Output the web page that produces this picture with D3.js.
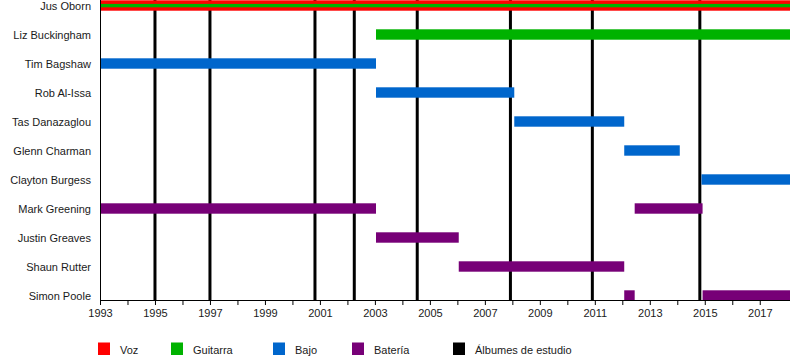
<!DOCTYPE html>
<html><head><meta charset="utf-8">
<script src="https://cdn.jsdelivr.net/npm/d3@7"></script>
<style>body{margin:0;background:#fff}svg{display:block;font-family:"Liberation Sans",Arial,sans-serif}</style>
</head><body><svg id="c" width="800" height="360"></svg>
<script>
const members = ["Jus Oborn","Liz Buckingham","Tim Bagshaw","Rob Al-Issa","Tas Danazaglou","Glenn Charman","Clayton Burgess","Mark Greening","Justin Greaves","Shaun Rutter","Simon Poole"];
const roles = ["Voz","Guitarra","Bajo","Batería"];
const roleColors = ["#ff0000","#00b200","#0066cc","#770077"];
const endYear = 2018.1;
// [member, role, start, end]
const periods = [
  ["Jus Oborn","Voz",1993,endYear],
  ["Jus Oborn","Guitarra",1993,endYear],
  ["Liz Buckingham","Guitarra",2003.04,endYear],
  ["Tim Bagshaw","Bajo",1993,2003.04],
  ["Rob Al-Issa","Bajo",2003.04,2008.07],
  ["Tas Danazaglou","Bajo",2008.07,2012.07],
  ["Glenn Charman","Bajo",2012.07,2014.09],
  ["Clayton Burgess","Bajo",2014.88,endYear],
  ["Mark Greening","Batería",1993,2003.04],
  ["Mark Greening","Batería",2012.45,2014.92],
  ["Justin Greaves","Batería",2003.04,2006.05],
  ["Shaun Rutter","Batería",2006.05,2012.07],
  ["Simon Poole","Batería",2012.07,2012.45],
  ["Simon Poole","Batería",2014.92,endYear]
];
const albums = [1995.0,1997.0,2000.82,2002.25,2004.54,2007.93,2010.91,2014.82];
const tickYears = d3.range(1993,2018);
const labelYears = d3.range(1993,2018,2);
const legendLabels = ["Voz","Guitarra","Bajo","Batería","Álbumes de estudio"];
const legendColors = ["#ff0000","#00b200","#0066cc","#770077","#000000"];

const svg = d3.select("#c");
const x = d3.scaleLinear().domain([1993,endYear]).range([100,790]);
const y = d3.scalePoint().domain(members).range([5.5,295.5]);
const color = d3.scaleOrdinal().domain(roles).range(roleColors);
const axisY = 300;

// album lines
svg.append("g").selectAll("line").data(albums).join("line")
  .attr("x1",d=>x(d)).attr("x2",d=>x(d))
  .attr("y1",0).attr("y2",axisY)
  .attr("stroke","#000").attr("stroke-width",3);

// bars
svg.append("g").selectAll("rect").data(periods).join("rect")
  .attr("x",d=>x(d[2]))
  .attr("width",d=>x(d[3])-x(d[2]))
  .attr("y",d=>{
    const thin = d[0]==="Jus Oborn" && d[1]==="Guitarra";
    return y(d[0]) - (thin?1.6:5.2);
  })
  .attr("height",d=>(d[0]==="Jus Oborn" && d[1]==="Guitarra")?3.4:10.4)
  .attr("fill",d=>color(d[1]));

// member labels
svg.append("g").selectAll("text").data(members).join("text")
  .attr("x",91).attr("y",d=>y(d)+0.8).attr("dy","0.35em")
  .attr("text-anchor","end").attr("font-size",11).attr("fill","#1a1a1a")
  .text(d=>d);

// left axis line
svg.append("line").attr("x1",100.5).attr("x2",100.5).attr("y1",0).attr("y2",axisY)
  .attr("stroke","#000").attr("stroke-width",1);

// bottom axis
const ax = svg.append("g").attr("transform",`translate(0,${axisY})`)
  .call(d3.axisBottom(x).tickValues(tickYears).tickSize(5).tickSizeOuter(0)
    .tickFormat(d=>labelYears.includes(d)?String(d):""));
ax.select(".domain").attr("stroke","#000").attr("d",`M${x(1993)},0.5H${x(endYear)}`);
ax.selectAll(".tick line").attr("stroke","#000");
ax.selectAll(".tick text").attr("font-size",11).attr("fill","#1a1a1a")
  .attr("font-family","Liberation Sans, Arial, sans-serif").attr("y",9);

// legend
const legX = [98,171,273,352,453];
const lg = svg.append("g").selectAll("g").data(legendLabels).join("g")
  .attr("transform",(d,i)=>`translate(${legX[i]},342.5)`);
lg.append("rect").attr("width",12).attr("height",12.5).attr("fill",(d,i)=>legendColors[i]);
lg.append("text").attr("x",22).attr("y",7.5).attr("dy","0.35em")
  .attr("font-size",11).attr("fill","#1a1a1a").text(d=>d);
</script></body></html>
